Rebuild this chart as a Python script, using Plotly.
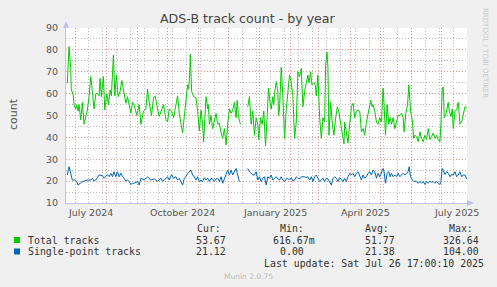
import pandas as pd
import plotly.graph_objects as go

# ---------------- data ----------------
start = pd.Timestamp("2024-06-21 17:00:10")
end = pd.Timestamp("2025-07-26 17:00:10")

green_day = [1.3, 3, 4.7, 5.3, 7, 8, 9.7, 10.7, 12, 13, 14.7, 16.3, 18, 19.7, 21.3, 23, 24.7, 26.3, 28, 29.7,
             31.3, 33, 34, 35.3, 37.3, 38.7, 40.7, 42.3, 44, 45.3, 47.3, 48.7, 50.3, 52, 54, 55.7, 58, 59.7, 61.3, 63,
             64.7, 66.3,
             68, 70.7, 73, 74.7, 77.3, 79.7, 81.3, 83, 85.3, 87.3, 89, 91.3, 93, 95.3, 97.3, 99.7, 101.3, 103, 105.3,
             107.3, 109.7, 111.3, 113, 114.7, 116.3, 118, 119.7, 121.3, 122.3, 123.3, 124, 125.3, 127.3, 129.7, 131.3,
             133, 134.7, 136.3, 137.3,
             138, 139.7, 141.3, 142, 143, 144.7, 146.3, 148, 149.7, 151.3, 153, 154.7, 156.3, 158, 159.7, 161.3, 163,
             164.7, 166.3, 168, 169.7, 170.7, 172, 174, 177, 181.3, 183, 184.7, 186.3, 188, 189.7, 191.3, 192.3, 194,
             195.7, 197.3, 199, 200.7, 202, 203.7, 204.7, 206.3, 207.3,
             208, 209.7, 211.3, 212, 213, 214.7, 216.3, 218, 219.7, 221.3, 223, 224.7, 226.3, 228, 229.7, 231.3, 233,
             234.7, 236.3, 238, 239.7, 241.3, 242.3, 244, 245.3, 247.3, 248.7, 249.7, 251.3, 253, 254.7, 256.3, 258,
             259, 260.3, 261.3, 262.3, 264, 265.7, 267.3, 269, 270.7, 272, 274, 275.7, 277.3,
             278, 279.7, 281.3, 283, 284.7, 286.3, 288, 289.7, 291.3, 293, 294.7, 296.3, 298, 299.7, 302, 304, 305.3,
             306.3, 308, 309.7, 311.3, 313, 314.7, 316.3, 317.3, 318.7, 320.3, 322, 323.3, 324.7, 326.3, 328, 329.7,
             331.3, 333, 334.7, 336.3, 337.3, 339, 340.7, 342, 343.7, 345.7, 346.7,
             348, 349.7, 351.3, 353, 354.7, 356.3, 358, 359.7, 361.3, 363, 364.7, 366.3, 368, 369.7, 371.3, 373, 374,
             375.3, 376.3, 377.3, 378.7, 380.3, 381.3, 382.3, 384, 385.3, 386.3, 388, 389.7, 391.3, 393, 394.7, 396.3,
             398, 399.7]
green_val = [64.7, 81.5, 71.6, 61.7, 60, 54.8, 53, 55, 52, 55, 48, 56, 46, 49.5, 52.5, 58.6, 67.8, 61, 53, 60,
             60, 59, 67, 58.6, 67.8, 52.5, 60, 54.8, 61.7, 59, 77.7, 59, 68.5, 58.6, 61, 66, 59, 55.6, 58.6, 54,
             51, 56,
             54.8, 50, 55, 46, 52, 53, 62, 56, 50, 58, 59, 53, 49.5, 52.5, 55, 48, 47, 53, 52,
             49, 55, 59, 51, 46, 42, 49.5, 57, 64, 62, 68.5, 78, 61, 58.6, 58, 52,
             43, 52.5, 46, 38,
             46, 58.6, 53, 55, 46, 50, 44, 47, 51, 46, 46.5, 42, 39.5, 44, 36.5, 46, 53,
             51, 52.5, 56, 49, 57, 49.5, 46, None, 54, 58.6, 46, 52, 41, 49, 46, 39, 49,
             46, 52, 36, 49.5, 62.5, 55.6, 53, 58.6, 55,
             60, 65.5, 61, 50, 53, 72, 59, 39.5, 53, 61, 68.5, 65, 59, 39.5, 47, 70, 67.8,
             71.6, 54, 61, 65, 68.5, 65, 70, 64, 65, 64, 59, 68.5, 49, 39.5, 49, 47,
             73, 79, 72, 41, 56, 46, 41, 49, 54, 52, 46, 42.5, 37,
             47, 41, 37.5, 46, 54, 55.6, 49, 52, 52.5, 52, 42.5, 44, 41, 47, 52, 57, 54,
             55, 52, 47, 46, 49, 47, 62.5, 55, 41, 55, 46, 49, 46, 49, 44, 47,
             50, 50, 51, 49, 42.5, 51, 55, 64, 52, 47, 39.5,
             41, 40.3, 38, 42.5, 39.5, 38, 41, 39, 44, 39, 40.3, 42, 39.5, 41, 39, 38, 46,
             62.5, 63, 49, 50, 55, 56, 52, 49.5, 53, 44, 52, 52.5, 56, 46, 47, 50,
             54, 53.7]

blue_day = [1.3, 3, 4.7, 6.3, 8.7, 10.7, 12, 14, 16.3, 18, 21.3, 24.7, 26.3, 28, 29.7, 33, 36.3, 38, 39.7, 41.3,
            43, 44.7, 46.3, 48, 49.7, 51.3, 53, 54.7, 56.3, 58, 59.7, 61.3, 63, 64.7, 66.3,
            68, 71.3, 73, 74.7, 78, 81.3, 84.7, 88, 91.3, 94.7, 96.3, 99.7, 101.3, 103, 105.3, 107.3, 109.7, 111.3,
            113, 114.7, 116.3, 118, 119.7, 121.3, 123, 124.7, 126.3, 128, 129.7, 131.3, 133, 134.7, 136.3,
            138, 139.7, 141.3, 143, 144.7, 146.3, 148, 149.7, 151.3, 153, 154.7, 156.3, 158, 159.7, 161.3, 163, 164.7,
            166.3, 168, 169.7, 171.3, 173, 177, 181.3, 183, 184.7, 186.3, 188, 189.7, 191.3, 193, 194.7, 196.3, 198,
            199.7, 201.3, 203, 204.7, 206.3,
            208, 209.7, 211.3, 213, 214.7, 216.3, 218, 219.7, 221.3, 223, 224.7, 226.3, 228, 229.7, 231.3, 233, 234.7,
            238, 239.7, 241.3, 243, 244.7, 246.3, 248, 249.7, 251.3, 253, 254.7, 256.3, 258, 259.7, 261.3, 263, 264.7,
            266.3, 268, 269.7, 271.3, 273, 274.7, 276.3,
            278, 279.7, 281.3, 283, 284.7, 286.3, 288, 289.7, 291.3, 293, 294.7, 296.3, 298, 299.7, 301.3, 303, 304.7,
            306.3, 308, 309.7, 311.3, 313, 314.7, 316.3, 317.3, 318.7, 320.3, 322, 323.3, 324.7, 326.3, 328, 329.7,
            331.3, 333, 334.7, 336.3, 338, 339.7, 341.3, 342.3, 343.7, 345.7, 347,
            348, 349.7, 351.3, 353, 354.7, 356.3, 358, 359.7, 361.3, 363, 364.7, 366.3, 368, 369.7, 371.3, 373, 374,
            375.3, 376.3, 378, 379.7, 381.3, 383, 384.7, 386.3, 388, 389.7, 391.3, 393, 394.7, 396.3, 398, 399.7]
blue_val = [22.8, 26.6, 23.6, 20.5, 20.5, 19.8, 18.2, 19, 19.8, 20, 20.5, 20.5, 21.3, 20, 20.5, 22.8, 22.5, 21.3, 22, 23,
            22, 23.6, 22, 24.3, 22, 24.3, 22, 23.6, 22, 21.3, 20, 20.5, 19.8, 18.5, 19,
            19, 19.8, 18.2, 21.3, 20.5, 22, 20.5, 21, 20, 21.3, 19.8, 21.3, 22, 20.5, 23, 21.3, 22, 20.5,
            21.3, 19.8, 18.2, 21.3, 22, 23.6, 24.3, 25, 22.8, 22, 20.5, 22, 19.8, 20.5, 19.8,
            21.6, 20.5, 21.3, 19.8, 21.3, 21, 20, 21, 21.3, 19.8, 22, 19, 21.3, 23.6, 25, 22.8, 25,
            22.8, 24.3, 25.8, 22.8, 19.8, None, 25.8, 24.3, 23.6, 22.8, 22.8, 24.3, 20.5, 22, 19.8, 21.3, 22,
            18.2, 22, 21.3, 22.8, 20.5,
            21.3, 22, 21, 20.5, 22, 20.5, 19.8, 21, 21.3, 20.5, 21.6, 20, 20.5, 22, 21.3, 21, 22,
            22, 21.6, 22, 20.5, 22, 19.8, 22, 22.8, 21.3, 19.8, 20.5, 21.3, 19.8, 21.3, 21, 19.8, 18.2,
            21.3, 22, 21.3, 19.8, 21.6, 20.5, 19.8,
            21.3, 19.8, 22, 23.6, 22.8, 23.6, 22, 23.6, 24.3, 22, 20.5, 22.8, 21.3, 22, 23.6, 24.3, 22.8,
            25, 24.3, 21.3, 23.6, 22, 23.6, 25.8, 24.3, 19, 23.6, 24.3, 22, 23.6, 22, 22.8, 22,
            23.6, 22, 22.8, 23.6, 22.8, 23.6, 24.3, 26.6, 22, 20.5, 19.8,
            20, 19.8, 19, 19.8, 19, 19.8, 18.5, 19.8, 19, 20, 19.5, 19.8, 19, 19.8, 19, 18.5, 19.8,
            25.8, 25, 23, 24.3, 23.6, 22, 23, 22.8, 24.3, 22, 22.8, 24.3, 22, 22.8, 22.8, 21]

series_names = ["Total tracks", "Single-point tracks"]
series_colors = ["#00CC00", "#0066B3"]
cur_vals = ["53.67", "21.12"]
min_vals = ["616.67m", "0.00"]
avg_vals = ["51.77", "21.38"]
max_vals = ["326.64", "104.00"]
last_update = "Last update: Sat Jul 26 17:00:10 2025"

xtick_dates = ["2024-07-16", "2024-10-16", "2025-01-16", "2025-04-16", "2025-07-16"]
xtick_text = ["July 2024", "October 2024", "January 2025", "April 2025", "July 2025"]

title = "ADS-B track count - by year"
ylabel = "count"

# ---------------- layout helpers (pixel -> paper) ----------------
W, H = 497, 287
L, R, T, B = 66, 467, 28, 203


def px(x):
    return (x - L) / (R - L)


def py(y):
    return (B - y) / (B - T)


def to_dates(days):
    return [start + pd.Timedelta(days=d) for d in days]


fig = go.Figure()
fig.add_trace(go.Scatter(x=to_dates(green_day), y=green_val, mode="lines",
                         line=dict(color=series_colors[0], width=1), name=series_names[0],
                         connectgaps=False, hoverinfo="skip"))
fig.add_trace(go.Scatter(x=to_dates(blue_day), y=blue_val, mode="lines",
                         line=dict(color=series_colors[1], width=1), name=series_names[1],
                         connectgaps=False, hoverinfo="skip"))

month_starts = pd.date_range("2024-07-01", "2025-07-01", freq="MS")
minor_lines = pd.date_range("2024-07-14", end, freq="14D")

RED = "rgba(230,130,130,0.85)"
GRAY = "rgba(180,180,180,0.9)"
AXIS = "#C4C4F0"
DASH = "1px,2px"

fig.update_layout(
    width=W, height=H,
    margin=dict(l=L, r=W - R, t=T, b=H - B),
    paper_bgcolor="#F0F0F0", plot_bgcolor="#FFFFFF",
    showlegend=False,
    font=dict(family="DejaVu Sans", size=9.5, color="#555"),
    xaxis=dict(
        range=[start, end], tickmode="array", tickvals=list(month_starts),
        ticktext=[""] * len(month_starts), ticks="",
        showgrid=True, gridcolor=RED, griddash=DASH, gridwidth=1,
        minor=dict(tickmode="array", tickvals=list(minor_lines), showgrid=True,
                   gridcolor=GRAY, griddash=DASH, gridwidth=1, ticks=""),
        showline=True, linecolor=AXIS, linewidth=1, zeroline=False, fixedrange=True,
    ),
    yaxis=dict(
        range=[10, 90], dtick=10, tick0=10, ticks="",
        showgrid=True, gridcolor=RED, griddash=DASH, gridwidth=1,
        minor=dict(dtick=5, tick0=0, showgrid=True, gridcolor=GRAY,
                   griddash=DASH, gridwidth=1, ticks=""),
        showline=True, linecolor=AXIS, linewidth=1, zeroline=False,
        ticklabelstandoff=5, tickfont=dict(family="DejaVu Sans", size=9.5, color="#555"),
    ),
)

ann = []
# title
ann.append(dict(text=title, x=px(248), y=py(18.5), xref="paper", yref="paper", showarrow=False,
                xanchor="center", yanchor="middle", font=dict(family="DejaVu Sans", size=12.6, color="#444")))
# y label
ann.append(dict(text=ylabel, x=px(13), y=py(114), xref="paper", yref="paper", showarrow=False,
                textangle=-90, xanchor="center", yanchor="middle",
                font=dict(family="DejaVu Sans", size=11, color="#555")))
# watermark
ann.append(dict(text="RRDTOOL / TOBI OETIKER", x=px(485), y=py(53), xref="paper", yref="paper",
                showarrow=False, textangle=90, xanchor="center", yanchor="middle",
                font=dict(family="DejaVu Sans", size=7, color="#C8C8C8")))
# x tick labels
for d, t in zip(xtick_dates, xtick_text):
    ann.append(dict(text=t, x=pd.Timestamp(d), y=py(212.5), xref="x", yref="paper", showarrow=False,
                    xanchor="center", yanchor="middle",
                    font=dict(family="DejaVu Sans", size=9.5, color="#555")))

MONO = dict(family="DejaVu Sans Mono", size=9.9, color="#333")


def text(t, x, y, anchor="left", font=MONO):
    ann.append(dict(text=t, x=px(x), y=py(y), xref="paper", yref="paper", showarrow=False,
                    xanchor=anchor, yanchor="middle", font=font))


# legend headers
text("Cur:", 195, 228)
text("Min:", 278, 228)
text("Avg:", 363, 228)
text("Max:", 447, 228)
row_y = [240, 251.5]
cur_x = [194, 194]
min_x = [271, 278]
avg_x = [363, 363]
max_x = [441, 441]
shapes = []
for i in range(2):
    text(series_names[i], 26, row_y[i])
    text(cur_vals[i], cur_x[i], row_y[i])
    text(min_vals[i], min_x[i], row_y[i])
    text(avg_vals[i], avg_x[i], row_y[i])
    text(max_vals[i], max_x[i], row_y[i])
    shapes.append(dict(type="rect", xref="paper", yref="paper",
                       x0=px(14), x1=px(20), y0=py(row_y[i] + 3), y1=py(row_y[i] - 3),
                       fillcolor=series_colors[i], line=dict(width=0)))
text(last_update, 261.5, 263.5)
text("Munin 2.0.75", 248, 276, anchor="center", font=dict(family="DejaVu Sans", size=7.5, color="#BBBBBB"))


# axis arrows
def tri(points):
    p = " L ".join(f"{px(a)},{py(b)}" for a, b in points)
    return "M " + p + " Z"


shapes.append(dict(type="path", xref="paper", yref="paper",
                   path=tri([(63, 28), (69, 28), (66, 21)]),
                   fillcolor="#BFBFF0", line=dict(width=0)))
shapes.append(dict(type="path", xref="paper", yref="paper",
                   path=tri([(467, 200), (467, 206), (474, 203)]),
                   fillcolor="#BFBFF0", line=dict(width=0)))

fig.update_layout(annotations=ann, shapes=shapes)
fig.write_html("out.html")
